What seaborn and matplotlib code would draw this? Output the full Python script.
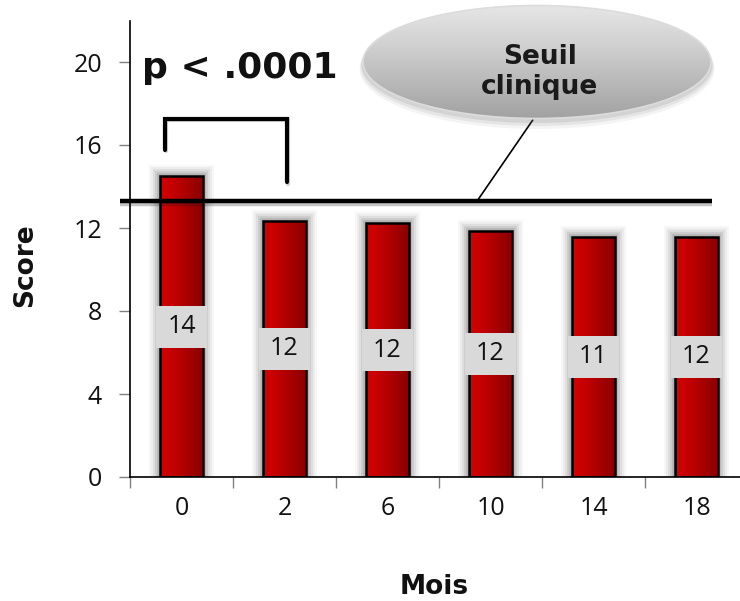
import numpy as np
import pandas as pd
import matplotlib
matplotlib.use("Agg")
import matplotlib.pyplot as plt
import matplotlib.patheffects as pe
from matplotlib.patches import Rectangle, Ellipse
import seaborn as sns

# Data
months = ["0", "2", "6", "10", "14", "18"]
scores = [14.5, 12.34, 12.22, 11.86, 11.58, 11.58]
score_labels = ["14", "12", "12", "12", "11", "12"]
threshold = 13.3
y_ticks = [0, 4, 8, 12, 16, 20]

df = pd.DataFrame({"Mois": months, "Score": scores})

sns.set_theme(style="white")
plt.rcParams["font.family"] = ["Open Sans", "DejaVu Sans"]

BOLD = ["DejaVu Sans"]

fig = plt.figure(figsize=(7.40, 6.01), dpi=100)
ax = fig.add_axes([130 / 740, 1 - 477 / 601, 618 / 740, 456.5 / 601])

sns.barplot(data=df, x="Mois", y="Score", order=months, color="#c00000",
            width=0.41, ax=ax, zorder=2)

# red horizontal gradient for the bars
grad = np.linspace(0, 1, 256).reshape(1, -1)
red_cmap = matplotlib.colors.LinearSegmentedColormap.from_list(
    "bar_red", ["#d80000", "#b40000", "#880000"])

glow = [pe.Stroke(linewidth=lw, foreground="#808080", alpha=a)
        for lw, a in [(16, 0.06), (13, 0.09), (10, 0.13), (7, 0.2), (4, 0.3)]]

for bar in ax.patches:
    bar.set_edgecolor("none")
    bar.set_path_effects(glow + [pe.Normal()])
    x0, y0 = bar.get_x(), bar.get_y()
    w, h = bar.get_width(), bar.get_height()
    im = ax.imshow(grad, cmap=red_cmap, aspect="auto",
                   extent=[x0, x0 + w, y0, y0 + h], zorder=2.1)
    im.set_clip_path(bar)
    ax.add_patch(Rectangle((x0, y0), w, h, fill=False, edgecolor="black",
                           linewidth=1.8, zorder=2.2))

# value boxes at half height of each bar
box_w, box_h = 0.495, 2.02
for i, (val, lab) in enumerate(zip(scores, score_labels)):
    cy = val / 2
    ax.add_patch(Rectangle((i - box_w / 2, cy - box_h / 2), box_w, box_h,
                           facecolor="#d9d9d9", edgecolor="none", zorder=3))
    ax.text(i, cy, lab, ha="center", va="center", fontsize=18,
            color="#111111", zorder=4)

# clinical threshold line
ax.plot([-0.6, 5.15], [threshold, threshold], color="black", linewidth=3.2,
        solid_capstyle="butt", zorder=5, clip_on=False,
        path_effects=[pe.SimpleLineShadow(offset=(0, -2), alpha=0.25),
                      pe.Normal()])

# significance bracket between month 0 and month 2
ax.plot([-0.16, -0.16, 1.02, 1.02], [15.76, 17.25, 17.25, 14.2],
        color="black", linewidth=3, solid_joinstyle="miter", zorder=5,
        path_effects=[pe.SimpleLineShadow(offset=(1, -1), alpha=0.2),
                      pe.Normal()])
ax.text(-0.38, 19.23, "p < .0001", ha="left", va="baseline", fontsize=26,
        fontweight="bold", family=BOLD, color="#111111", zorder=6)

# connector from the threshold line to the callout
ax.plot([2.87, 3.41], [13.3, 17.2], color="black", linewidth=1.2, zorder=5,
        clip_on=False)

# axes styling
ax.set_xlim(-0.5, 5.5)
ax.set_ylim(0, 22)
ax.set_yticks(y_ticks)
ax.set_yticklabels([str(t) for t in y_ticks])
ax.set_xticks(np.arange(-0.5, 6.0, 1.0))
ax.set_xticklabels([])
ax.set_xticks(np.arange(len(months)), minor=True)
ax.set_xticklabels(months, minor=True)
ax.tick_params(axis="x", which="major", direction="out", length=8, width=1,
               color="#808080", bottom=True)
ax.tick_params(axis="x", which="minor", length=0, pad=14, labelsize=18,
               labelcolor="#111111")
ax.tick_params(axis="y", direction="out", length=8, width=1, color="#808080",
               left=True, pad=12, labelsize=18, labelcolor="#111111")

for side in ["top", "right"]:
    ax.spines[side].set_visible(False)
for side in ["left", "bottom"]:
    ax.spines[side].set_color("black")
    ax.spines[side].set_linewidth(1.2)

ax.set_xlabel("")
ax.set_ylabel("")

# callout ellipse on a full-figure overlay (pixel coordinates)
ov = fig.add_axes([0, 0, 1, 1], zorder=5)
ov.axis("off")
ov.patch.set_alpha(0)

ecx, ecy, ew, eh = 537, 62, 348, 113
for k, a in [(7, 0.07), (5, 0.1), (3, 0.14)]:
    ov.add_patch(Ellipse((ecx, ecy + k), ew + k, eh + k, facecolor="#666666",
                         edgecolor="none", alpha=a, zorder=1))
ell = Ellipse((ecx, ecy), ew, eh, facecolor="#bfbfbf", edgecolor="none",
              zorder=1.5)
ov.add_patch(ell)
vgrad = np.linspace(0, 1, 256).reshape(-1, 1)
gray_cmap = matplotlib.colors.LinearSegmentedColormap.from_list(
    "ell_gray", ["#e6e6e6", "#d2d2d2", "#bababa", "#a2a2a2"])
eim = ov.imshow(vgrad, cmap=gray_cmap, aspect="auto", origin="upper",
                extent=[ecx - ew / 2, ecx + ew / 2, ecy + eh / 2, ecy - eh / 2],
                zorder=2)
eim.set_clip_path(ell)
ov.add_patch(Ellipse((ecx, ecy), ew, eh, fill=False, edgecolor="#dcdcdc",
                     linewidth=1.2, zorder=2.5))
ov.set_xlim(0, 740)
ov.set_ylim(601, 0)
ov.text(540, 72, "Seuil\nclinique", ha="center", va="center",
        fontsize=19, fontweight="bold", family=BOLD, color="#1a1a1a",
        linespacing=1.15, zorder=3)

fig.text(25 / 740, 1 - 265 / 601, "Score", rotation=90, ha="center",
         va="center", fontsize=19, fontweight="bold", family=BOLD,
         color="#111111")
fig.text(434 / 740, 1 - 587 / 601, "Mois", ha="center", va="center",
         fontsize=19, fontweight="bold", family=BOLD, color="#111111")

fig.savefig("out.png", dpi=100, facecolor="white")
